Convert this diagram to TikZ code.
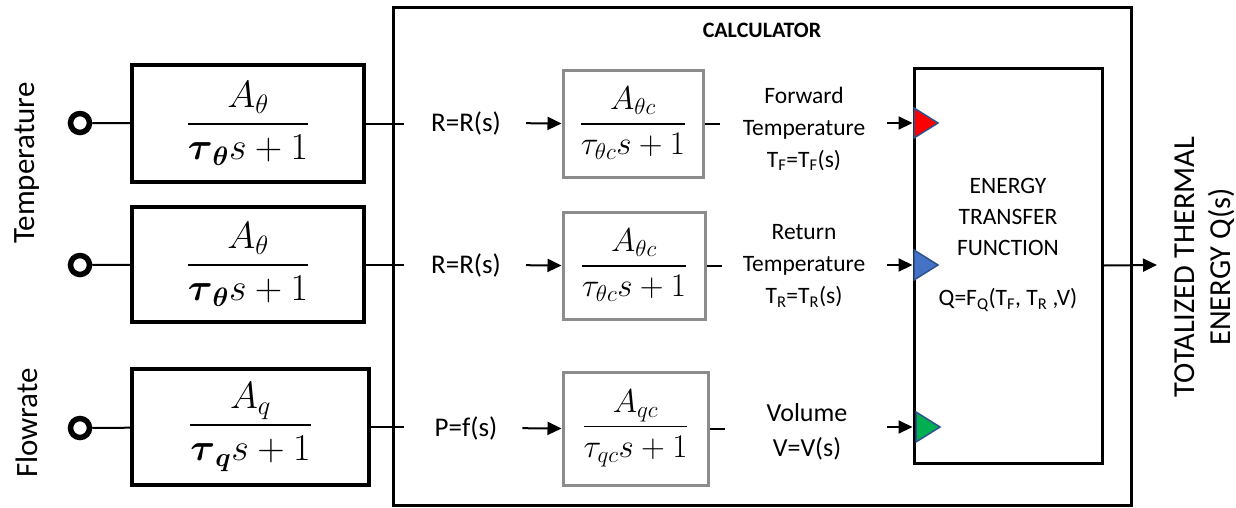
\RequirePackage{fix-cm}
\documentclass[tikz,border=0pt]{standalone}
\usepackage{amsmath,amssymb}
\usepackage{fontspec}
\setmainfont{Carlito}
\usetikzlibrary{arrows.meta,positioning,calc}
\definecolor{cgray}{HTML}{8C8C8C}
\definecolor{tblue}{HTML}{4472C4}
\definecolor{tedge}{HTML}{2F528F}
\definecolor{tred}{HTML}{FF0000}
\definecolor{tgreen}{HTML}{00B050}

\begin{document}
\begin{tikzpicture}[x=1pt,y=-1pt,
      lbox/.style={draw,line width=4pt,inner sep=0pt,align=center,font=\fontsize{38}{44}\selectfont},
      cbox/.style={draw=cgray,line width=3pt,inner sep=0pt,align=center,font=\fontsize{33}{38}\selectfont},
      lbl/.style={align=center,font=\fontsize{23.5}{32}\selectfont,inner sep=0pt},
      sig/.style={align=center,font=\fontsize{27}{34}\selectfont,inner sep=0pt},
      term/.style={circle,draw,line width=5.5pt,minimum size=19pt,inner sep=0pt},
      wire/.style={line width=2pt},
      arr/.style={-{Triangle[length=14pt,width=13pt]},line width=2pt},
      tri/.style={draw=tedge,line width=1.5pt,line join=miter}]
    \useasboundingbox (0,0) rectangle (1236,507);
    % calculator frame
    \node[draw,line width=3pt,minimum width=738,minimum height=498,inner sep=0pt] (calc) at (762,256) {};
    \node[font=\fontsize{22}{26}\selectfont\bfseries] (ctitle) at (762,30) {CALCULATOR};
    % sensor blocks
    \node[term] (t1) at (80,123) {};
    \node[term] (t2) at (80,265) {};
    \node[term] (t3) at (80,428) {};
    \node[lbox,minimum width=232,minimum height=117] (lp1) at (248,123.5)
      {$\dfrac{A_\theta}{\boldsymbol{\tau}_{\boldsymbol{\theta}}s+1}$};
    \node[lbox,minimum width=232,minimum height=115] (lp2) at (248,264.5)
      {$\dfrac{A_\theta}{\boldsymbol{\tau}_{\boldsymbol{\theta}}s+1}$};
    \node[lbox,minimum width=237,minimum height=116] (lp3) at (250.5,427)
      {$\dfrac{A_q}{\boldsymbol{\tau}_{\boldsymbol{q}}s+1}$};
    \node[rotate=90,font=\fontsize{31}{36}\selectfont] (temp) at (27,163) {Temperature};
    \node[rotate=90,font=\fontsize{31}{36}\selectfont] (flow) at (27,423) {Flowrate};
    \draw[wire] (t1) -- (lp1);
    \draw[wire] (t2) -- (lp2);
    \draw[wire] (t3) -- (lp3);
    \draw[wire] (lp1.east) -- ([xshift=12pt]lp1.east -| calc.west);
    \draw[wire] (lp2.east) -- ([xshift=12pt]lp2.east -| calc.west);
    \draw[wire] (lp3.east) -- ([xshift=12pt]lp3.east -| calc.west);
    % calculator filters
    \node[sig] (r1) at (466,123) {R=R(s)};
    \node[sig] (r2) at (466,265) {R=R(s)};
    \node[sig] (r3) at (466,428) {P=f(s)};
    \node[cbox,minimum width=140,minimum height=107] (f1) at (633,123.5)
      {$\dfrac{A_{\theta c}}{\tau_{\theta c}s+1}$};
    \node[cbox,minimum width=142,minimum height=107] (f2) at (634,265.5)
      {$\dfrac{A_{\theta c}}{\tau_{\theta c}s+1}$};
    \node[cbox,minimum width=145,minimum height=113] (f3) at (635.5,428.5)
      {$\dfrac{A_{qc}}{\tau_{qc}s+1}$};
    \draw[arr,shorten <=25pt] (r1.east) -- (f1.west);
    \draw[arr,shorten <=25pt] (r2.east) -- (f2.west);
    \draw[arr,shorten <=25pt] (r3.east) -- (f3.west);
    \draw[wire] (f1.east) -- ++(15,0);
    \draw[wire] (f2.east) -- ++(15,0);
    \draw[wire] (f3.east) -- ++(15,0);
    \node[lbl] (o1) at (804,129) {Forward\\Temperature\\T\textsubscript{F}=T\textsubscript{F}(s)};
    \node[lbl] (o2) at (804,266) {Return\\Temperature\\T\textsubscript{R}=T\textsubscript{R}(s)};
    \node[sig,font=\fontsize{26}{35}\selectfont] (o3) at (807,432) {Volume\\V=V(s)};
    % energy transfer block
    \node[draw,line width=3pt,minimum width=188,minimum height=395,inner sep=0pt] (etf) at (1008,265.5) {};
    \node[lbl,font=\fontsize{23.5}{31}\selectfont] (etxt) at (1008,217) {ENERGY\\TRANSFER\\FUNCTION};
    \node[lbl] (qtxt) at (1008,300) {Q=F\textsubscript{Q}(T\textsubscript{F}, T\textsubscript{R} ,V)};
    \filldraw[tri,fill=tred] (914,108) -- (938,123) -- (914,138) -- cycle;
    \filldraw[tri,fill=tblue] (914,250) -- (938,265) -- (914,280) -- cycle;
    \filldraw[tri,fill=tgreen] (916,412) -- (940,427) -- (916,442) -- cycle;
    \coordinate (in1) at (887,123);
    \coordinate (in2) at (887,265);
    \coordinate (in3) at (887,427);
    \draw[arr] (in1) -- (in1 -| etf.west);
    \draw[arr] (in2) -- (in2 -| etf.west);
    \draw[arr] (in3) -- (in3 -| etf.west);
    % output
    \node[rotate=90,align=center,inner sep=0pt,font=\fontsize{30.5}{36}\selectfont] (qout) at (1205,267)
      {TOTALIZED THERMAL\\ENERGY Q(s)};
    \coordinate (qend) at (1157,265);
    \draw[arr] (etf.east) -- (qend);
  \end{tikzpicture}
\end{document}
